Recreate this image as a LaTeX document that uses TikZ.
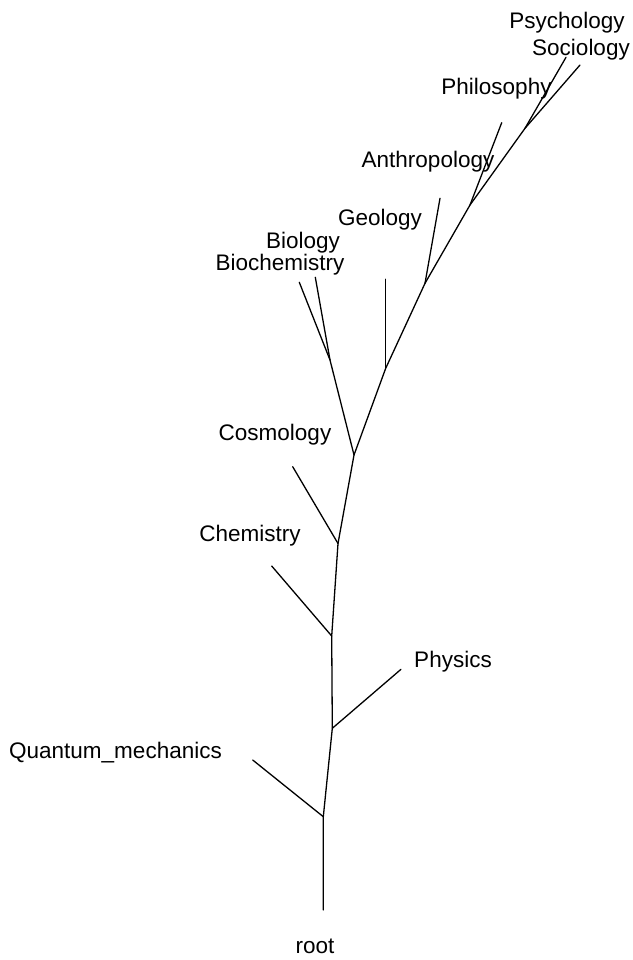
\documentclass[tikz,border=0pt]{standalone}
\usepackage{fontspec}
\setmainfont{Liberation Sans}
\begin{document}
\begin{tikzpicture}[x=1pt,y=-1pt,
  edge/.style={line width=1.3pt,line cap=round},
  lbl/.style={inner sep=0pt,font=\fontsize{22.5}{26}\selectfont}]
\useasboundingbox (0,0) rectangle (632,960);
% internal points
\coordinate (r0) at (323.3,910);
\coordinate (A) at (323.3,816.7);
\coordinate (B) at (332.3,728.3);
\coordinate (C) at (331.7,636);
\coordinate (D) at (338,543.5);
\coordinate (E) at (354,455);
\coordinate (F) at (330,360);
\coordinate (G) at (385.7,368.3);
\coordinate (H) at (425,283.3);
\coordinate (I) at (470,205);
\coordinate (J) at (525,128.3);
% leaf ends
\coordinate (lQ) at (252.7,760);
\coordinate (lP) at (401,669.3);
\coordinate (lC) at (271.7,566);
\coordinate (lCo) at (292.7,466.7);
\coordinate (lBc) at (299.3,282.3);
\coordinate (lBi) at (315.3,277.3);
\coordinate (lG) at (385.7,279.3);
\coordinate (lA) at (440,198.3);
\coordinate (lPh) at (501.7,122.7);
\coordinate (lPs) at (566,57.3);
\coordinate (lS) at (580,65);
% edges
\draw[edge] (r0) -- (A) -- (B) -- (C) -- (D) -- (E) -- (G) -- (H) -- (I) -- (J) -- (lS);
\draw[edge] (A) -- (lQ);
\draw[edge] (B) -- (lP);
\draw[edge] (C) -- (lC);
\draw[edge] (D) -- (lCo);
\draw[edge] (E) -- (F) -- (lBc);
\draw[edge] (F) -- (lBi);
\draw[edge] (G) -- (lG);
\draw[edge] (H) -- (lA);
\draw[edge] (I) -- (lPh);
\draw[edge] (J) -- (lPs);
% labels
\node[lbl] (troot) at (315,946) {root};
\node[lbl] (tQ) at (115.5,753) {Quantum\_mechanics};
\node[lbl] (tP) at (453,662) {Physics};
\node[lbl] (tC) at (250,536) {Chemistry};
\node[lbl] (tCo) at (275,435) {Cosmology};
\node[lbl] (tBc) at (280,265) {Biochemistry};
\node[lbl] (tBi) at (303,243) {Biology};
\node[lbl] (tG) at (380,220) {Geology};
\node[lbl] (tA) at (428,162) {Anthropology};
\node[lbl] (tPh) at (496.5,89) {Philosophy};
\node[lbl] (tPs) at (567,22.5) {Psychology};
\node[lbl] (tS) at (581,50) {Sociology};
\end{tikzpicture}
\end{document}
